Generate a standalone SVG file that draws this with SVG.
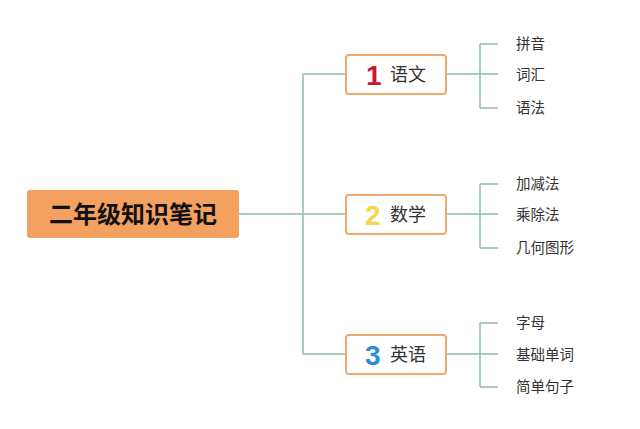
<svg xmlns="http://www.w3.org/2000/svg" width="640" height="429" viewBox="0 0 640 429">
<style>
.c{fill:none;stroke:#8dbfa5;stroke-width:1.5}
.b{fill:#fff;stroke:#f0a96a;stroke-width:2}
.t{font-family:"Noto Sans CJK SC",sans-serif;font-size:18px;fill:#333}
.l{font-family:"Noto Sans CJK SC",sans-serif;font-size:14.5px;fill:#333}
.n{font-family:"Liberation Sans",sans-serif;font-size:28px;font-weight:bold}
</style>
<rect width="640" height="429" fill="#fff"/>
<g id="connectors">
<path class="c" d="M239 214H346M303 74V354M303 74H346M303 354H346"/>
<path class="c" d="M446 74H498M480 44V108M480 44H498M480 108H498"/>
<path class="c" d="M446 214H498M480 184V248M480 184H498M480 248H498"/>
<path class="c" d="M446 354H498M480 323V387M480 323H498M480 387H498"/>
</g>
<g id="root"><rect x="27" y="190" width="212" height="48" rx="3" fill="#f4a061"/>
<text x="133" y="223" text-anchor="middle" font-family="Noto Sans CJK SC,sans-serif" font-size="24" font-weight="bold" fill="#111">二年级知识笔记</text></g>
<g id="n1"><rect class="b" x="346" y="55" width="100" height="39" rx="3"/><text class="n" x="366" y="85" fill="#d0142c">1</text><text class="t" x="390" y="81">语文</text></g>
<g id="n2"><rect class="b" x="346" y="195" width="100" height="39" rx="3"/><text class="n" x="365" y="225" fill="#f3d54e">2</text><text class="t" x="390" y="221">数学</text></g>
<g id="n3"><rect class="b" x="346" y="335" width="100" height="39" rx="3"/><text class="n" x="365" y="365" fill="#2a8ed6">3</text><text class="t" x="390" y="361">英语</text></g>
<g id="leaves">
<text class="l" x="516" y="49">拼音</text><text class="l" x="516" y="80">词汇</text><text class="l" x="516" y="113">语法</text>
<text class="l" x="516" y="189">加减法</text><text class="l" x="516" y="220">乘除法</text><text class="l" x="516" y="253">几何图形</text>
<text class="l" x="516" y="328">字母</text><text class="l" x="516" y="360">基础单词</text><text class="l" x="516" y="392">简单句子</text>
</g>
</svg>
